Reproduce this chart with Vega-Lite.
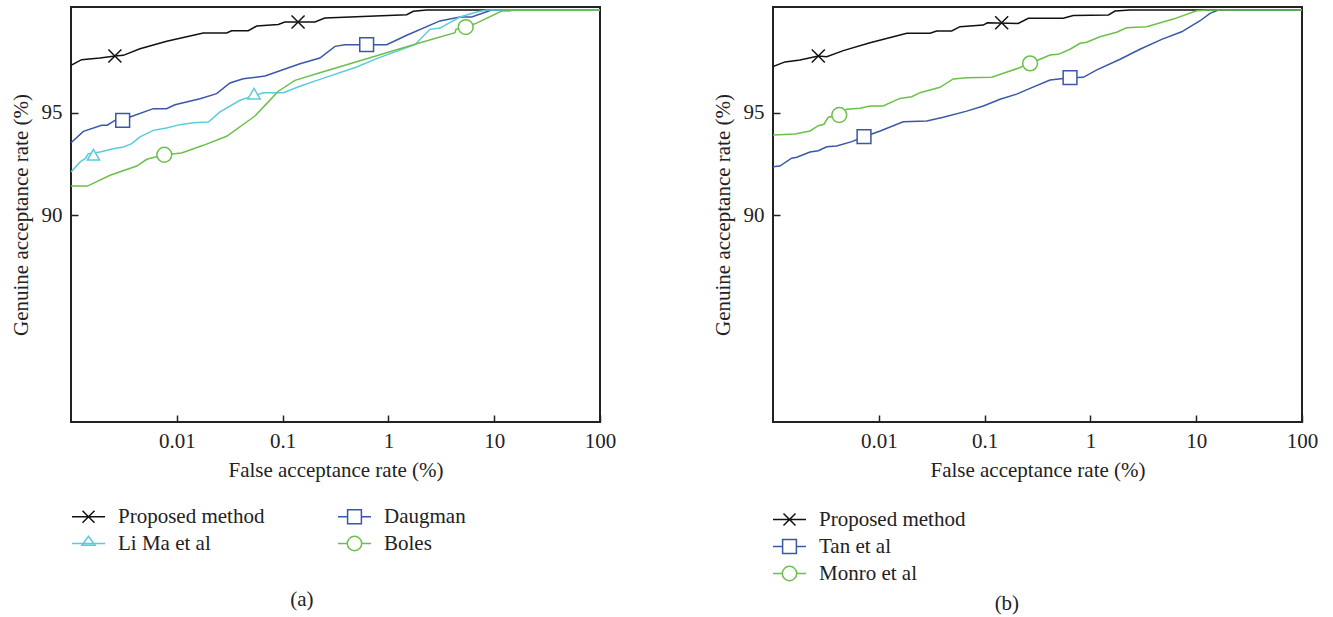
{
  "$schema": "https://vega.github.io/schema/vega-lite/v6.json",
  "padding": {"left": 9, "top": 6, "right": 0, "bottom": 0},
  "spacing": 94,
  "resolve": {"scale": {"color": "independent", "shape": "independent", "stroke": "independent"}, "legend": {"color": "independent", "shape": "independent", "stroke": "independent"}},
  "config": {
    "font": "Liberation Serif",
    "view": {"stroke": "#222", "strokeWidth": 2},
    "axis": {
      "labelFont": "Liberation Serif", "titleFont": "Liberation Serif",
      "labelFontSize": 21, "titleFontSize": 21, "titleFontWeight": "normal",
      "labelColor": "#222", "titleColor": "#222",
      "domain": false, "grid": false,
      "tickColor": "#222", "tickWidth": 1.5, "tickSize": -7
    },
    "legend": {
      "labelFont": "Liberation Serif", "labelFontSize": 21, "labelColor": "#222", "labelLimit": 400
    },
    "title": {"font": "Liberation Serif", "fontSize": 21, "fontWeight": "normal", "color": "#222"}
  },
  "datasets": {
    "a_curves": [
      {"method": "Proposed method", "far": 0.001, "gar": 97.30},
      {"method": "Proposed method", "far": 0.00126, "gar": 97.58},
      {"method": "Proposed method", "far": 0.00188, "gar": 97.66},
      {"method": "Proposed method", "far": 0.00261, "gar": 97.76},
      {"method": "Proposed method", "far": 0.00312, "gar": 97.79},
      {"method": "Proposed method", "far": 0.00449, "gar": 98.11},
      {"method": "Proposed method", "far": 0.00803, "gar": 98.48},
      {"method": "Proposed method", "far": 0.0178, "gar": 98.88},
      {"method": "Proposed method", "far": 0.0296, "gar": 98.88},
      {"method": "Proposed method", "far": 0.033, "gar": 98.99},
      {"method": "Proposed method", "far": 0.0474, "gar": 98.99},
      {"method": "Proposed method", "far": 0.0569, "gar": 99.22},
      {"method": "Proposed method", "far": 0.091, "gar": 99.30},
      {"method": "Proposed method", "far": 0.105, "gar": 99.42},
      {"method": "Proposed method", "far": 0.202, "gar": 99.42},
      {"method": "Proposed method", "far": 0.251, "gar": 99.61},
      {"method": "Proposed method", "far": 1.49, "gar": 99.77},
      {"method": "Proposed method", "far": 1.72, "gar": 99.94},
      {"method": "Proposed method", "far": 2.3, "gar": 100},
      {"method": "Proposed method", "far": 100, "gar": 100},
      {"method": "Daugman", "far": 0.001, "gar": 93.53},
      {"method": "Daugman", "far": 0.00131, "gar": 94.08},
      {"method": "Daugman", "far": 0.00195, "gar": 94.38},
      {"method": "Daugman", "far": 0.0022, "gar": 94.38},
      {"method": "Daugman", "far": 0.0026, "gar": 94.62},
      {"method": "Daugman", "far": 0.00361, "gar": 94.78},
      {"method": "Daugman", "far": 0.006, "gar": 95.19},
      {"method": "Daugman", "far": 0.008, "gar": 95.19},
      {"method": "Daugman", "far": 0.0096, "gar": 95.38},
      {"method": "Daugman", "far": 0.0166, "gar": 95.67},
      {"method": "Daugman", "far": 0.0238, "gar": 95.92},
      {"method": "Daugman", "far": 0.0318, "gar": 96.44},
      {"method": "Daugman", "far": 0.0425, "gar": 96.65},
      {"method": "Daugman", "far": 0.0682, "gar": 96.78},
      {"method": "Daugman", "far": 0.146, "gar": 97.38},
      {"method": "Daugman", "far": 0.225, "gar": 97.66},
      {"method": "Daugman", "far": 0.313, "gar": 98.23},
      {"method": "Daugman", "far": 0.389, "gar": 98.31},
      {"method": "Daugman", "far": 0.964, "gar": 98.31},
      {"method": "Daugman", "far": 1.49, "gar": 98.77},
      {"method": "Daugman", "far": 3.07, "gar": 99.47},
      {"method": "Daugman", "far": 4.75, "gar": 99.66},
      {"method": "Daugman", "far": 6.13, "gar": 99.66},
      {"method": "Daugman", "far": 9.46, "gar": 100},
      {"method": "Daugman", "far": 100, "gar": 100},
      {"method": "Li Ma et al", "far": 0.001, "gar": 92.1},
      {"method": "Li Ma et al", "far": 0.00122, "gar": 92.59},
      {"method": "Li Ma et al", "far": 0.00136, "gar": 92.75},
      {"method": "Li Ma et al", "far": 0.00146, "gar": 92.99},
      {"method": "Li Ma et al", "far": 0.00188, "gar": 93.07},
      {"method": "Li Ma et al", "far": 0.00251, "gar": 93.23},
      {"method": "Li Ma et al", "far": 0.00312, "gar": 93.32},
      {"method": "Li Ma et al", "far": 0.00375, "gar": 93.48},
      {"method": "Li Ma et al", "far": 0.00449, "gar": 93.81},
      {"method": "Li Ma et al", "far": 0.006, "gar": 94.13},
      {"method": "Li Ma et al", "far": 0.008, "gar": 94.25},
      {"method": "Li Ma et al", "far": 0.0107, "gar": 94.41},
      {"method": "Li Ma et al", "far": 0.0143, "gar": 94.50},
      {"method": "Li Ma et al", "far": 0.0199, "gar": 94.54},
      {"method": "Li Ma et al", "far": 0.0256, "gar": 95.03},
      {"method": "Li Ma et al", "far": 0.0396, "gar": 95.60},
      {"method": "Li Ma et al", "far": 0.0657, "gar": 95.97},
      {"method": "Li Ma et al", "far": 0.1016, "gar": 95.97},
      {"method": "Li Ma et al", "far": 0.146, "gar": 96.28},
      {"method": "Li Ma et al", "far": 0.225, "gar": 96.62},
      {"method": "Li Ma et al", "far": 0.501, "gar": 97.22},
      {"method": "Li Ma et al", "far": 0.774, "gar": 97.63},
      {"method": "Li Ma et al", "far": 1.78, "gar": 98.31},
      {"method": "Li Ma et al", "far": 2.47, "gar": 99.06},
      {"method": "Li Ma et al", "far": 3.07, "gar": 99.12},
      {"method": "Li Ma et al", "far": 4.75, "gar": 99.66},
      {"method": "Li Ma et al", "far": 6.84, "gar": 99.91},
      {"method": "Li Ma et al", "far": 8.5, "gar": 100},
      {"method": "Li Ma et al", "far": 100, "gar": 100},
      {"method": "Boles", "far": 0.001, "gar": 91.41},
      {"method": "Boles", "far": 0.00143, "gar": 91.41},
      {"method": "Boles", "far": 0.00234, "gar": 91.94},
      {"method": "Boles", "far": 0.00418, "gar": 92.39},
      {"method": "Boles", "far": 0.0052, "gar": 92.72},
      {"method": "Boles", "far": 0.00762, "gar": 92.94},
      {"method": "Boles", "far": 0.0111, "gar": 93.03},
      {"method": "Boles", "far": 0.0178, "gar": 93.40},
      {"method": "Boles", "far": 0.0296, "gar": 93.84},
      {"method": "Boles", "far": 0.0548, "gar": 94.83},
      {"method": "Boles", "far": 0.0682, "gar": 95.35},
      {"method": "Boles", "far": 0.091, "gar": 96.04},
      {"method": "Boles", "far": 0.131, "gar": 96.57},
      {"method": "Boles", "far": 0.225, "gar": 96.94},
      {"method": "Boles", "far": 1.85, "gar": 98.36},
      {"method": "Boles", "far": 4.26, "gar": 98.90},
      {"method": "Boles", "far": 4.35, "gar": 99.06},
      {"method": "Boles", "far": 6.58, "gar": 99.33},
      {"method": "Boles", "far": 11.8, "gar": 99.95},
      {"method": "Boles", "far": 14.3, "gar": 99.95},
      {"method": "Boles", "far": 14.5, "gar": 100},
      {"method": "Boles", "far": 100, "gar": 100}
    ],
    "a_markers": [
      {"method": "Proposed method", "far": 0.0026, "gar": 97.76},
      {"method": "Proposed method", "far": 0.14, "gar": 99.42},
      {"method": "Daugman", "far": 0.00308, "gar": 94.62},
      {"method": "Daugman", "far": 0.623, "gar": 98.31},
      {"method": "Li Ma et al", "far": 0.00163, "gar": 92.94},
      {"method": "Li Ma et al", "far": 0.0537, "gar": 95.92},
      {"method": "Boles", "far": 0.00762, "gar": 92.94},
      {"method": "Boles", "far": 5.38, "gar": 99.17}
    ],
    "b_curves": [
      {"method": "Proposed method", "far": 0.001, "gar": 97.24},
      {"method": "Proposed method", "far": 0.0013, "gar": 97.47},
      {"method": "Proposed method", "far": 0.0018, "gar": 97.56},
      {"method": "Proposed method", "far": 0.00268, "gar": 97.76},
      {"method": "Proposed method", "far": 0.00322, "gar": 97.72},
      {"method": "Proposed method", "far": 0.00462, "gar": 98.02},
      {"method": "Proposed method", "far": 0.00826, "gar": 98.41},
      {"method": "Proposed method", "far": 0.0184, "gar": 98.87},
      {"method": "Proposed method", "far": 0.0305, "gar": 98.87},
      {"method": "Proposed method", "far": 0.0352, "gar": 98.98},
      {"method": "Proposed method", "far": 0.0489, "gar": 98.98},
      {"method": "Proposed method", "far": 0.0585, "gar": 99.19},
      {"method": "Proposed method", "far": 0.0973, "gar": 99.27},
      {"method": "Proposed method", "far": 0.106, "gar": 99.38},
      {"method": "Proposed method", "far": 0.208, "gar": 99.35},
      {"method": "Proposed method", "far": 0.259, "gar": 99.60},
      {"method": "Proposed method", "far": 0.554, "gar": 99.60},
      {"method": "Proposed method", "far": 0.689, "gar": 99.73},
      {"method": "Proposed method", "far": 1.48, "gar": 99.76},
      {"method": "Proposed method", "far": 1.71, "gar": 99.95},
      {"method": "Proposed method", "far": 2.37, "gar": 100},
      {"method": "Proposed method", "far": 100, "gar": 100},
      {"method": "Tan et al", "far": 0.001, "gar": 92.36},
      {"method": "Tan et al", "far": 0.00116, "gar": 92.39},
      {"method": "Tan et al", "far": 0.0015, "gar": 92.77},
      {"method": "Tan et al", "far": 0.00168, "gar": 92.82},
      {"method": "Tan et al", "far": 0.00224, "gar": 93.07},
      {"method": "Tan et al", "far": 0.00268, "gar": 93.14},
      {"method": "Tan et al", "far": 0.00322, "gar": 93.33},
      {"method": "Tan et al", "far": 0.004, "gar": 93.37},
      {"method": "Tan et al", "far": 0.00555, "gar": 93.58},
      {"method": "Tan et al", "far": 0.00725, "gar": 93.82},
      {"method": "Tan et al", "far": 0.0103, "gar": 94.10},
      {"method": "Tan et al", "far": 0.017, "gar": 94.55},
      {"method": "Tan et al", "far": 0.0284, "gar": 94.59},
      {"method": "Tan et al", "far": 0.0407, "gar": 94.77},
      {"method": "Tan et al", "far": 0.0678, "gar": 95.07},
      {"method": "Tan et al", "far": 0.0973, "gar": 95.32},
      {"method": "Tan et al", "far": 0.14, "gar": 95.65},
      {"method": "Tan et al", "far": 0.201, "gar": 95.90},
      {"method": "Tan et al", "far": 0.269, "gar": 96.18},
      {"method": "Tan et al", "far": 0.415, "gar": 96.59},
      {"method": "Tan et al", "far": 0.642, "gar": 96.70},
      {"method": "Tan et al", "far": 0.857, "gar": 96.72},
      {"method": "Tan et al", "far": 1.15, "gar": 97.08},
      {"method": "Tan et al", "far": 1.91, "gar": 97.60},
      {"method": "Tan et al", "far": 2.94, "gar": 98.09},
      {"method": "Tan et al", "far": 4.72, "gar": 98.57},
      {"method": "Tan et al", "far": 7.29, "gar": 98.94},
      {"method": "Tan et al", "far": 10.9, "gar": 99.48},
      {"method": "Tan et al", "far": 13.5, "gar": 99.84},
      {"method": "Tan et al", "far": 16.2, "gar": 100},
      {"method": "Tan et al", "far": 100, "gar": 100},
      {"method": "Monro et al", "far": 0.001, "gar": 93.90},
      {"method": "Monro et al", "far": 0.00161, "gar": 93.95},
      {"method": "Monro et al", "far": 0.00224, "gar": 94.10},
      {"method": "Monro et al", "far": 0.00268, "gar": 94.36},
      {"method": "Monro et al", "far": 0.00303, "gar": 94.43},
      {"method": "Monro et al", "far": 0.00333, "gar": 94.77},
      {"method": "Monro et al", "far": 0.00423, "gar": 94.88},
      {"method": "Monro et al", "far": 0.00497, "gar": 95.16},
      {"method": "Monro et al", "far": 0.00664, "gar": 95.21},
      {"method": "Monro et al", "far": 0.00826, "gar": 95.32},
      {"method": "Monro et al", "far": 0.011, "gar": 95.32},
      {"method": "Monro et al", "far": 0.0158, "gar": 95.69},
      {"method": "Monro et al", "far": 0.0205, "gar": 95.77},
      {"method": "Monro et al", "far": 0.0245, "gar": 95.97},
      {"method": "Monro et al", "far": 0.0305, "gar": 96.10},
      {"method": "Monro et al", "far": 0.0379, "gar": 96.23},
      {"method": "Monro et al", "far": 0.0506, "gar": 96.64},
      {"method": "Monro et al", "far": 0.0678, "gar": 96.70},
      {"method": "Monro et al", "far": 0.117, "gar": 96.72},
      {"method": "Monro et al", "far": 0.155, "gar": 96.94},
      {"method": "Monro et al", "far": 0.208, "gar": 97.16},
      {"method": "Monro et al", "far": 0.269, "gar": 97.40},
      {"method": "Monro et al", "far": 0.334, "gar": 97.60},
      {"method": "Monro et al", "far": 0.415, "gar": 97.81},
      {"method": "Monro et al", "far": 0.497, "gar": 97.84},
      {"method": "Monro et al", "far": 0.642, "gar": 98.09},
      {"method": "Monro et al", "far": 0.798, "gar": 98.38},
      {"method": "Monro et al", "far": 0.923, "gar": 98.43},
      {"method": "Monro et al", "far": 1.23, "gar": 98.70},
      {"method": "Monro et al", "far": 1.77, "gar": 98.92},
      {"method": "Monro et al", "far": 2.2, "gar": 99.14},
      {"method": "Monro et al", "far": 3.4, "gar": 99.19},
      {"method": "Monro et al", "far": 6.08, "gar": 99.56},
      {"method": "Monro et al", "far": 10.1, "gar": 99.97},
      {"method": "Monro et al", "far": 13.0, "gar": 100},
      {"method": "Monro et al", "far": 100, "gar": 100}
    ],
    "b_markers": [
      {"method": "Proposed method", "far": 0.00268, "gar": 97.76},
      {"method": "Proposed method", "far": 0.145, "gar": 99.38},
      {"method": "Tan et al", "far": 0.00725, "gar": 93.82},
      {"method": "Tan et al", "far": 0.642, "gar": 96.70},
      {"method": "Monro et al", "far": 0.00423, "gar": 94.88},
      {"method": "Monro et al", "far": 0.269, "gar": 97.40}
    ]
  },
  "hconcat": [
    {
      "width": 529,
      "height": 415,
      "title": {"text": "(a)", "orient": "bottom", "anchor": "middle", "frame": "bounds", "offset": 35, "dx": -11},
      "layer": [
        {
          "data": {"name": "a_curves"},
          "mark": {"type": "line", "strokeWidth": 1.5, "clip": true},
          "encoding": {
            "x": {"field": "far", "type": "quantitative",
                  "scale": {"type": "log", "domain": [0.001, 100], "nice": false},
                  "axis": {"values": [0.01, 0.1, 1, 10, 100], "format": "~g", "labelFlush": false, "labelPadding": 15, "titlePadding": 8, "title": "False acceptance rate (%)"}},
            "y": {"field": "gar", "type": "quantitative",
                  "scale": {"domain": [79.9, 100.15], "nice": false, "zero": false},
                  "axis": {"values": [90, 95], "labelPadding": 16, "titlePadding": 10, "title": "Genuine acceptance rate (%)"}},
            "stroke": {"field": "method", "type": "nominal",
                      "scale": {"range": ["#6cc04a", "#3a57a8", "#5ccbd9", "#111111"]},
                      "legend": null}
          }
        },
        {
          "data": {"name": "a_markers"},
          "transform": [{"filter": "datum.method === 'Proposed method'"}],
          "mark": {"type": "point", "shape": "M-1,-1L1,1M-1,1L1,-1", "size": 169, "filled": false, "stroke": "#111111", "strokeWidth": 1.5, "opacity": 1},
          "encoding": {"x": {"field": "far", "type": "quantitative"}, "y": {"field": "gar", "type": "quantitative"}}
        },
        {
          "data": {"name": "a_markers"},
          "transform": [{"filter": "datum.method === 'Daugman'"}],
          "mark": {"type": "point", "shape": "square", "size": 190, "filled": true, "fill": "white", "fillOpacity": 1, "stroke": "#3a57a8", "strokeWidth": 1.5, "opacity": 1},
          "encoding": {"x": {"field": "far", "type": "quantitative"}, "y": {"field": "gar", "type": "quantitative"}}
        },
        {
          "data": {"name": "a_markers"},
          "transform": [{"filter": "datum.method === 'Li Ma et al'"}],
          "mark": {"type": "point", "shape": "triangle-up", "size": 150, "filled": true, "fill": "white", "fillOpacity": 1, "stroke": "#5ccbd9", "strokeWidth": 1.5, "opacity": 1},
          "encoding": {"x": {"field": "far", "type": "quantitative"}, "y": {"field": "gar", "type": "quantitative"}}
        },
        {
          "data": {"name": "a_markers"},
          "transform": [{"filter": "datum.method === 'Boles'"}],
          "mark": {"type": "point", "shape": "circle", "size": 220, "filled": true, "fill": "white", "fillOpacity": 1, "stroke": "#6cc04a", "strokeWidth": 1.5, "opacity": 1},
          "encoding": {"x": {"field": "far", "type": "quantitative"}, "y": {"field": "gar", "type": "quantitative"}}
        },
        {
          "data": {"name": "a_markers"},
          "mark": {"type": "point", "opacity": 0, "size": 144, "filled": false, "strokeWidth": 1.5},
          "encoding": {
            "x": {"field": "far", "type": "quantitative"},
            "y": {"field": "gar", "type": "quantitative"},
            "color": {"field": "method", "type": "nominal",
                      "scale": {"domain": ["Proposed method", "Li Ma et al", "Daugman", "Boles"], "range": ["#111111", "#5ccbd9", "#3a57a8", "#6cc04a"]},
                      "legend": {"orient": "none", "legendX": 7, "legendY": 499, "columns": 2, "columnPadding": 70, "rowPadding": 5, "title": null,
                                 "symbolSize": 144, "symbolStrokeWidth": 1.5, "symbolOpacity": 1, "labelOffset": 19, "symbolOffset": 0}},
            "shape": {"field": "method", "type": "nominal",
                      "scale": {"domain": ["Proposed method", "Li Ma et al", "Daugman", "Boles"],
                                "range": ["M-2.75,0H2.75M-1,-1L1,1M-1,1L1,-1",
                                          "M-2.75,0H2.75M-1.1,0.3L0,-1.2L1.1,0.3Z",
                                          "M-2.75,0H-1.15M1.15,0H2.75M-1.15,-1.15H1.15V1.15H-1.15Z",
                                          "M-2.75,0H-1.2M1.2,0H2.75M1.2,0A1.2,1.2,0,1,1,-1.2,0A1.2,1.2,0,1,1,1.2,0Z"]}}
          }
        }
      ]
    },
    {
      "width": 529,
      "height": 415,
      "title": {"text": "(b)", "orient": "bottom", "anchor": "middle", "frame": "bounds", "offset": 9, "dx": -8},
      "layer": [
        {
          "data": {"name": "b_curves"},
          "mark": {"type": "line", "strokeWidth": 1.5, "clip": true},
          "encoding": {
            "x": {"field": "far", "type": "quantitative",
                  "scale": {"type": "log", "domain": [0.001, 100], "nice": false},
                  "axis": {"values": [0.01, 0.1, 1, 10, 100], "format": "~g", "labelFlush": false, "labelPadding": 15, "titlePadding": 8, "title": "False acceptance rate (%)"}},
            "y": {"field": "gar", "type": "quantitative",
                  "scale": {"domain": [79.9, 100.15], "nice": false, "zero": false},
                  "axis": {"values": [90, 95], "labelPadding": 16, "titlePadding": 10, "title": "Genuine acceptance rate (%)"}},
            "stroke": {"field": "method", "type": "nominal",
                      "scale": {"range": ["#6cc04a", "#111111", "#3a57a8"]},
                      "legend": null}
          }
        },
        {
          "data": {"name": "b_markers"},
          "transform": [{"filter": "datum.method === 'Proposed method'"}],
          "mark": {"type": "point", "shape": "M-1,-1L1,1M-1,1L1,-1", "size": 169, "filled": false, "stroke": "#111111", "strokeWidth": 1.5, "opacity": 1},
          "encoding": {"x": {"field": "far", "type": "quantitative"}, "y": {"field": "gar", "type": "quantitative"}}
        },
        {
          "data": {"name": "b_markers"},
          "transform": [{"filter": "datum.method === 'Tan et al'"}],
          "mark": {"type": "point", "shape": "square", "size": 190, "filled": true, "fill": "white", "fillOpacity": 1, "stroke": "#3a57a8", "strokeWidth": 1.5, "opacity": 1},
          "encoding": {"x": {"field": "far", "type": "quantitative"}, "y": {"field": "gar", "type": "quantitative"}}
        },
        {
          "data": {"name": "b_markers"},
          "transform": [{"filter": "datum.method === 'Monro et al'"}],
          "mark": {"type": "point", "shape": "circle", "size": 220, "filled": true, "fill": "white", "fillOpacity": 1, "stroke": "#6cc04a", "strokeWidth": 1.5, "opacity": 1},
          "encoding": {"x": {"field": "far", "type": "quantitative"}, "y": {"field": "gar", "type": "quantitative"}}
        },
        {
          "data": {"name": "b_markers"},
          "mark": {"type": "point", "opacity": 0, "size": 144, "filled": false, "strokeWidth": 1.5},
          "encoding": {
            "x": {"field": "far", "type": "quantitative"},
            "y": {"field": "gar", "type": "quantitative"},
            "color": {"field": "method", "type": "nominal",
                      "scale": {"domain": ["Proposed method", "Tan et al", "Monro et al"], "range": ["#111111", "#3a57a8", "#6cc04a"]},
                      "legend": {"orient": "none", "legendX": 6, "legendY": 502, "rowPadding": 5, "title": null,
                                 "symbolSize": 144, "symbolStrokeWidth": 1.5, "symbolOpacity": 1, "labelOffset": 19, "symbolOffset": 0}},
            "shape": {"field": "method", "type": "nominal",
                      "scale": {"domain": ["Proposed method", "Tan et al", "Monro et al"],
                                "range": ["M-2.75,0H2.75M-1,-1L1,1M-1,1L1,-1",
                                          "M-2.75,0H-1.15M1.15,0H2.75M-1.15,-1.15H1.15V1.15H-1.15Z",
                                          "M-2.75,0H-1.2M1.2,0H2.75M1.2,0A1.2,1.2,0,1,1,-1.2,0A1.2,1.2,0,1,1,1.2,0Z"]}}
          }
        }
      ]
    }
  ]
}
